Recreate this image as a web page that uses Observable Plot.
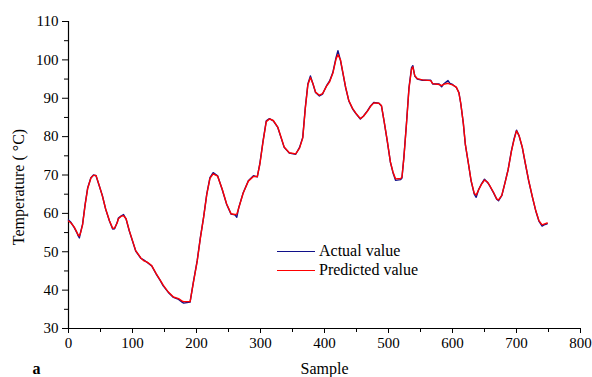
<!DOCTYPE html>
<html>
<head>
<meta charset="utf-8">
<script src="https://cdn.jsdelivr.net/npm/d3@7"></script>
<script src="https://cdn.jsdelivr.net/npm/@observablehq/plot@0.6"></script>
<style>
  body { margin: 0; background: white; }
  #wrap { position: relative; width: 592px; height: 377px; overflow: hidden; font-family: "Liberation Serif", "Times New Roman", serif; }
  #wrap svg, #wrap svg text { font-family: "Liberation Serif", "Times New Roman", serif !important; }
  .lg-line { position: absolute; height: 0; width: 38px; left: 277px; }
  .lg-text { position: absolute; left: 319px; font-size: 16px; line-height: 16px; color: #000; white-space: nowrap; }
</style>
</head>
<body>
<div id="wrap"></div>
<script>
const sample = [0,4,9,13,15,17,19,22,26,30,35,39,43,48,53,58,64,69,72,76,78,82,86,90,95,100,105,113,118,123,130,137,143,148,156,164,172,178,180,190,195,201,206,211,216,221,226,233,240,247,254,260,263,266,273,281,289,295,299,304,309,314,320,327,332,337,345,355,361,366,370,374,378,382,386,392,397,403,408,413,418,421,425,429,433,438,444,449,456,461,467,472,477,485,489,493,498,503,507,511,519,521,524,528,532,536,538,541,545,553,566,569,579,583,586,593,596,600,606,610,613,617,620,625,629,634,637,641,645,650,655,658,664,669,672,677,682,687,692,696,700,704,709,714,719,725,730,735,740,743,748];
const actual = [58.3,57.6,56.3,55.0,54.2,53.6,55.2,57.2,62.4,66.7,69.3,70.0,69.8,67.2,64.6,61.1,58.0,55.9,56.0,57.6,58.8,59.3,59.7,58.5,55.4,52.8,50.2,48.3,47.8,47.2,46.3,44.2,42.6,41.1,39.4,38.1,37.6,36.8,36.6,36.9,42.0,47.6,53.7,58.9,65.0,69.3,70.6,69.8,66.3,62.4,59.8,59.6,59.0,61.5,65.4,68.5,69.8,69.5,73.0,78.9,84.1,84.7,84.1,82.4,79.8,77.2,75.7,75.4,77.2,79.8,87.6,93.7,95.8,93.7,91.5,90.6,91.1,93.2,94.5,96.7,100.6,102.4,99.8,96.3,92.8,89.3,87.2,86.0,84.6,85.4,86.7,88.0,88.9,88.7,88.0,84.1,78.9,73.3,70.6,68.6,68.8,69.2,74.6,83.3,92.8,98.0,98.5,95.8,95.0,94.7,94.7,93.7,93.7,93.0,93.7,94.6,93.9,93.6,92.8,91.5,88.5,83.3,78.0,72.8,68.5,65.0,64.2,66.3,67.6,68.9,68.0,67.2,65.4,63.7,63.3,64.6,68.0,71.5,76.3,79.3,81.7,80.2,77.2,72.8,68.5,64.1,60.7,58.0,56.7,57.0,57.3];
const predicted = [58.0,57.5,56.4,55.1,54.4,54.1,55.0,57.0,62.2,66.5,69.2,69.9,69.9,67.3,64.5,61.2,58.1,56.1,56.2,57.5,58.6,59.2,59.4,58.6,55.5,52.9,50.3,48.4,47.6,47.3,46.4,44.3,42.7,41.3,39.5,38.2,37.8,37.1,37.0,37.0,41.8,47.4,53.5,58.8,64.8,69.1,70.3,69.7,66.4,62.5,59.9,59.7,59.8,61.4,65.3,68.4,69.6,69.6,72.8,78.7,83.9,84.6,84.2,82.5,79.9,77.3,75.8,75.5,77.0,79.6,87.3,93.5,95.4,93.8,91.6,90.8,91.2,93.1,94.3,96.5,100.2,101.4,100.0,96.5,92.9,89.4,87.3,86.1,84.7,85.3,86.6,87.9,88.8,88.7,88.1,84.2,79.0,73.4,70.8,69.0,69.1,69.4,74.4,83.1,92.5,97.6,98.2,95.9,95.1,94.8,94.6,93.8,93.6,93.3,93.6,93.9,93.7,93.5,92.9,91.4,88.6,83.4,78.1,72.9,68.6,65.2,64.8,66.2,67.5,68.7,68.1,67.3,65.5,63.8,63.5,64.7,67.9,71.4,76.1,79.1,81.5,80.3,77.3,72.9,68.6,64.2,60.8,58.1,57.0,57.2,57.5];
const xTicks = [0,100,200,300,400,500,600,700,800];
const xMinor = [50,150,250,350,450,550,650,750];
const yTicks = [30,40,50,60,70,80,90,100,110];
const yMinor = [35,45,55,65,75,85,95,105];
const yLabel = "Temperature ( °C)";
const xLabel = "Sample";
const panel = "a";
const seriesNames = ["Actual value", "Predicted value"];
const seriesColors = ["#10108a", "#ff0000"];

const FONT = '"Liberation Serif", "Times New Roman", serif';
const data = sample.map((s, i) => ({s, a: actual[i], p: predicted[i]}));

const chart = Plot.plot({
  width: 592,
  height: 377,
  marginLeft: 68,
  marginRight: 12,
  marginTop: 21,
  marginBottom: 49,
  x: {domain: [0, 800]},
  y: {domain: [30, 110]},
  style: {fontFamily: FONT, fontSize: "15px", color: "black", background: "white", overflow: "hidden"},
  marks: [
    Plot.axisX({ticks: xTicks, tickSize: 5, tickPadding: 4, label: null, fontSize: 15, fontFamily: FONT}),
    Plot.axisX({ticks: xMinor, tickSize: 4, text: null, label: null}),
    Plot.axisY({ticks: yTicks, tickSize: 6, tickPadding: 4, label: null, fontSize: 15, fontFamily: FONT}),
    Plot.axisY({ticks: yMinor, tickSize: 4, text: null, label: null}),
    Plot.ruleX([0], {strokeWidth: 1.2}),
    Plot.ruleY([30], {strokeWidth: 1.2}),
    Plot.lineY(data, {x: "s", y: "a", stroke: seriesColors[0], strokeWidth: 1.4}),
    Plot.lineY(data, {x: "s", y: "p", stroke: seriesColors[1], strokeWidth: 1.4}),
    Plot.text([yLabel], {frameAnchor: "left", textAnchor: "middle", rotate: -90, dx: -50, dy: 12, fontSize: 16, fontFamily: FONT}),
    Plot.text([xLabel], {frameAnchor: "bottom", lineAnchor: "bottom", dy: 45, fontSize: 16, fontFamily: FONT}),
    Plot.text([panel], {frameAnchor: "bottom-left", textAnchor: "start", lineAnchor: "bottom", dx: -36, dy: 45, fontSize: 16, fontWeight: "bold", fontFamily: FONT})
  ]
});

const wrap = document.getElementById("wrap");
wrap.appendChild(chart);

const tops = [250.5, 269.5];
seriesNames.forEach((name, i) => {
  const l = document.createElement("div");
  l.className = "lg-line";
  l.style.top = tops[i] + "px";
  l.style.borderTop = "1.4px solid " + seriesColors[i];
  wrap.appendChild(l);
  const t = document.createElement("div");
  t.className = "lg-text";
  t.style.top = (tops[i] - 8) + "px";
  t.textContent = name;
  wrap.appendChild(t);
});
</script>
</body>
</html>
